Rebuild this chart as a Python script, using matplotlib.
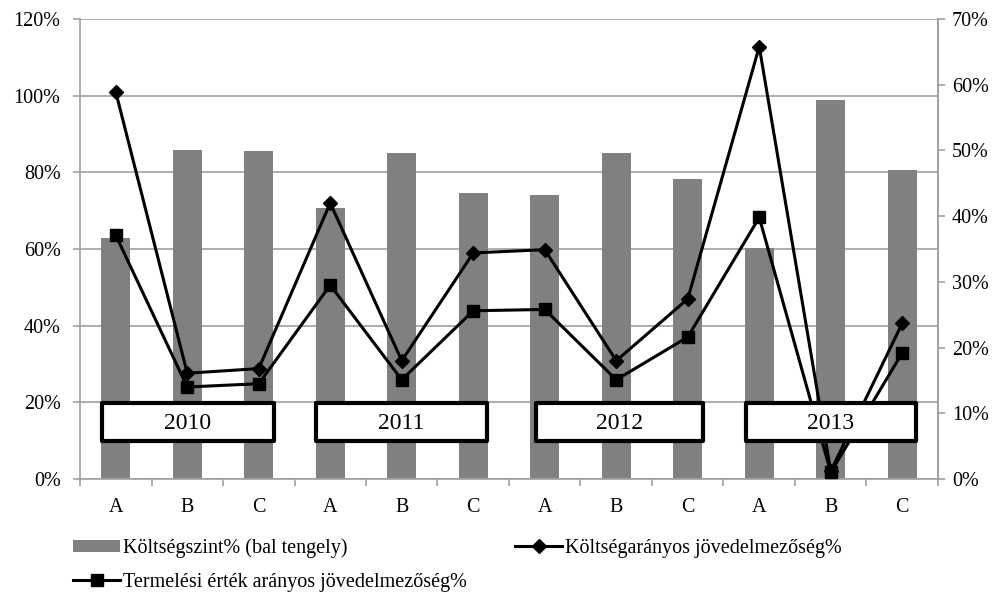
import matplotlib
matplotlib.use("Agg")
import matplotlib.pyplot as plt
from matplotlib.patches import Rectangle, Patch
from matplotlib.lines import Line2D
import numpy as np

plt.rcParams['font.family'] = ['Liberation Serif', 'DejaVu Serif']

# Data
groups = ['A', 'B', 'C', 'A', 'B', 'C', 'A', 'B', 'C', 'A', 'B', 'C']
years = ['2010', '2011', '2012', '2013']
koltsegszint = [62.9, 85.8, 85.5, 70.7, 85.1, 74.5, 74.1, 85.1, 78.2, 60.3, 98.9, 80.6]
koltseg_jov = [58.9, 16.1, 16.8, 42.0, 18.0, 34.4, 34.9, 18.0, 27.4, 65.8, 1.2, 23.7]
termeles_jov = [37.1, 14.0, 14.5, 29.5, 15.1, 25.6, 25.8, 15.1, 21.6, 39.8, 1.0, 19.2]
left_ticks = [0, 20, 40, 60, 80, 100, 120]
right_ticks = [0, 10, 20, 30, 40, 50, 60, 70]

label_names = ['Költségszint% (bal tengely)',
               'Költségarányos jövedelmezőség%',
               'Termelési érték arányos jövedelmezőség%']

W, H = 1001, 592
fig = plt.figure(figsize=(W / 100, H / 100), dpi=100)
ax = fig.add_axes([80 / W, 113 / H, 858 / W, 460 / H])

axis_col = '#a0a0a0'
bar_col = '#808080'
fs = 14.5

x = np.arange(len(groups))
ax.bar(x, koltsegszint, width=0.4, color=bar_col, zorder=2)
ax.set_xlim(-0.5, len(groups) - 0.5)
ax.set_ylim(0, 120)
ax.set_yticks(left_ticks)
ax.set_yticklabels([f'{v}%' for v in left_ticks])
ax.yaxis.grid(True, color=axis_col, lw=1.2)
ax.set_axisbelow(True)

ax.set_xticks(x)
ax.set_xticklabels(groups)
ax.set_xticks(np.arange(-0.5, len(groups)), minor=True)
ax.tick_params(axis='x', which='major', length=0, pad=14, labelsize=fs)
ax.tick_params(axis='x', which='minor', length=5, color=axis_col, width=1.2)
ax.tick_params(axis='y', direction='out', length=5, color=axis_col, width=1.2,
               pad=9, labelsize=fs)

ax.spines['top'].set_visible(False)
for s in ['left', 'bottom', 'right']:
    ax.spines[s].set_color(axis_col)
    ax.spines[s].set_linewidth(1.2)

ax2 = ax.twinx()
ax2.set_ylim(0, 70)
ax2.set_yticks(right_ticks)
ax2.set_yticklabels([f'{v}%' for v in right_ticks])
ax2.tick_params(axis='y', direction='out', length=5, color=axis_col, width=1.2,
                pad=5, labelsize=fs)
for s in ['top', 'left', 'bottom']:
    ax2.spines[s].set_visible(False)
ax2.spines['right'].set_color(axis_col)
ax2.spines['right'].set_linewidth(1.2)

ax2.plot(x, koltseg_jov, color='black', lw=2.2, marker='D', ms=7, zorder=3)
ax2.plot(x, termeles_jov, color='black', lw=2.2, marker='s', ms=8, zorder=3)

# Year boxes over each A-B-C group
box_x = [(0.0256, 0.226), (0.275, 0.474), (0.531, 0.726), (0.776, 0.974)]
box_y0, box_y1 = 0.083, 0.165
for yr, (x0, x1) in zip(years, box_x):
    ax2.add_patch(Rectangle((x0, box_y0), x1 - x0, box_y1 - box_y0,
                            transform=ax2.transAxes, facecolor='white',
                            edgecolor='black', lw=3, joinstyle='round',
                            zorder=10, clip_on=False))
    ax2.text((x0 + x1) / 2, (box_y0 + box_y1) / 2 - 0.004, yr,
             transform=ax2.transAxes, ha='center', va='center',
             fontsize=17, zorder=11)

handles = [
    Patch(facecolor=bar_col, edgecolor='none'),
    Line2D([], [], color='black', lw=2.2, marker='s', ms=8),
    Line2D([], [], color='black', lw=2.2, marker='D', ms=7),
]
labels = [label_names[0], label_names[2], label_names[1]]
fig.legend(handles, labels, loc='upper left', bbox_to_anchor=(73 / W, 1 - 538 / H),
           ncol=2, frameon=False, fontsize=14.5, handlelength=2.35,
           handleheight=0.55, handletextpad=0.12, columnspacing=2.4,
           labelspacing=0.75, borderaxespad=0, borderpad=0)

fig.savefig('out.png', dpi=100)
